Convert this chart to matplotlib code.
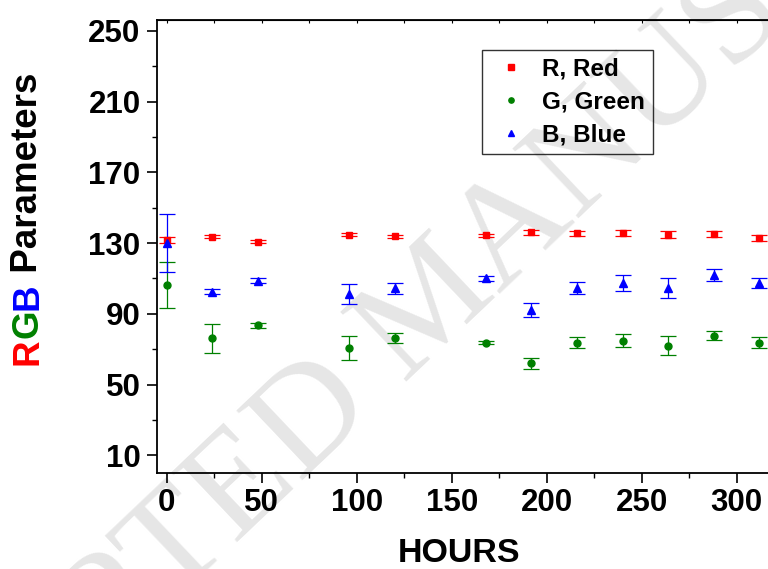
import matplotlib
matplotlib.use("Agg")
import matplotlib.pyplot as plt
from matplotlib.lines import Line2D

plt.rcParams['font.family'] = ['Liberation Sans', 'DejaVu Sans']
plt.rcParams['font.weight'] = 'bold'

hours = [0, 24, 48, 96, 120, 168, 192, 216, 240, 264, 288, 312]
red = [131.6, 133.7, 130.8, 134.8, 133.8, 134.4, 136.1, 135.5, 135.7, 134.8, 135.2, 132.9]
red_err = [1.6, 1.0, 1.0, 1.0, 1.0, 1.0, 1.5, 1.2, 1.8, 2.0, 1.5, 1.8]
green = [106.3, 76.2, 83.6, 70.6, 76.4, 73.7, 62.0, 73.7, 74.8, 72.1, 77.7, 73.7]
green_err = [13.2, 8.3, 1.4, 6.8, 2.8, 1.0, 3.2, 3.0, 3.8, 5.6, 2.7, 3.1]
blue = [130.1, 102.6, 108.8, 101.2, 104.5, 110.0, 92.2, 104.6, 107.6, 104.7, 112.0, 107.5]
blue_err = [16.5, 1.5, 1.5, 5.7, 3.0, 1.5, 3.9, 3.2, 4.6, 5.7, 3.6, 2.8]

labels = ['R, Red', 'G, Green', 'B, Blue']
colors = ['#ff0000', '#008000', '#0000ff']
markers = ['s', 'o', '^']
msizes = [4.5, 5.0, 5.5]

fig = plt.figure(figsize=(7.68, 5.69), dpi=100)
ax = fig.add_axes([0.2047, 0.1687, 0.804, 0.7962])
ax.set_facecolor('none')

# watermark of the source page, kept underneath everything
fig.text(0.566, 1 - 307 / 569, 'ACCEPTED MANUSCRIPT', family='Liberation Serif',
         fontweight='normal', fontsize=106, color='#e6e6e6', rotation=43.5,
         rotation_mode='anchor', ha='center', va='center', zorder=-5)

for y, e, c, m, s in zip([red, green, blue], [red_err, green_err, blue_err],
                         colors, markers, msizes):
    ax.errorbar(hours, y, yerr=e, fmt=m, color=c, ms=s, capsize=5.5,
                elinewidth=0.9, capthick=0.9, zorder=3)

ax.set_xlim(-5, 320)
ax.set_ylim(0, 256.2)
ax.set_xticks([0, 50, 100, 150, 200, 250, 300])
ax.set_xticks(range(25, 320, 50), minor=True)
ax.set_yticks([10, 50, 90, 130, 170, 210, 250])
ax.set_yticks([30, 70, 110, 150, 190, 230], minor=True)
ax.tick_params(which='major', direction='out', length=7, width=1.2,
               labelsize=22.5, pad=3.5)
ax.tick_params(axis='y', which='major', pad=5)
ax.tick_params(which='minor', direction='out', length=3.5, width=1.0)
for sp in ax.spines.values():
    sp.set_linewidth(1.3)

top = ax.secondary_xaxis('top')
top.set_xticks(range(0, 320, 25))
top.tick_params(direction='in', length=2.5, width=0.8, labeltop=False)
top.xaxis.set_minor_locator(plt.NullLocator())

ax.set_xlabel('HOURS', fontsize=24.5, fontweight='bold', labelpad=14.5, x=0.489)

handles = [Line2D([], [], ls='none', marker=m, color=c, ms=3.8)
           for m, c in zip(markers, colors)]
leg = ax.legend(handles, labels, loc='upper left', bbox_to_anchor=(0.526, 0.934),
                borderaxespad=0, fancybox=False, frameon=True, edgecolor='black',
                facecolor='none', framealpha=None,
                prop={'size': 17.5, 'weight': 'bold'}, handletextpad=0.45,
                labelspacing=0.4, borderpad=0.33, handlelength=1.7)
leg.get_frame().set_linewidth(1.0)

# multi-coloured y label, piece by piece
renderer = fig.canvas.get_renderer()
ypos = 1 - 365 / 569
for txt, col in [('R', colors[0]), ('G', colors[1]), ('B', colors[2]),
                 (' Parameters', 'black')]:
    t = fig.text(28 / 768, ypos, txt, color=col, fontsize=26.5, fontweight='bold',
                 rotation=90, ha='center', va='bottom')
    bb = t.get_window_extent(renderer)
    ypos = bb.y1 / fig.bbox.height

fig.savefig('out.png', dpi=100)
